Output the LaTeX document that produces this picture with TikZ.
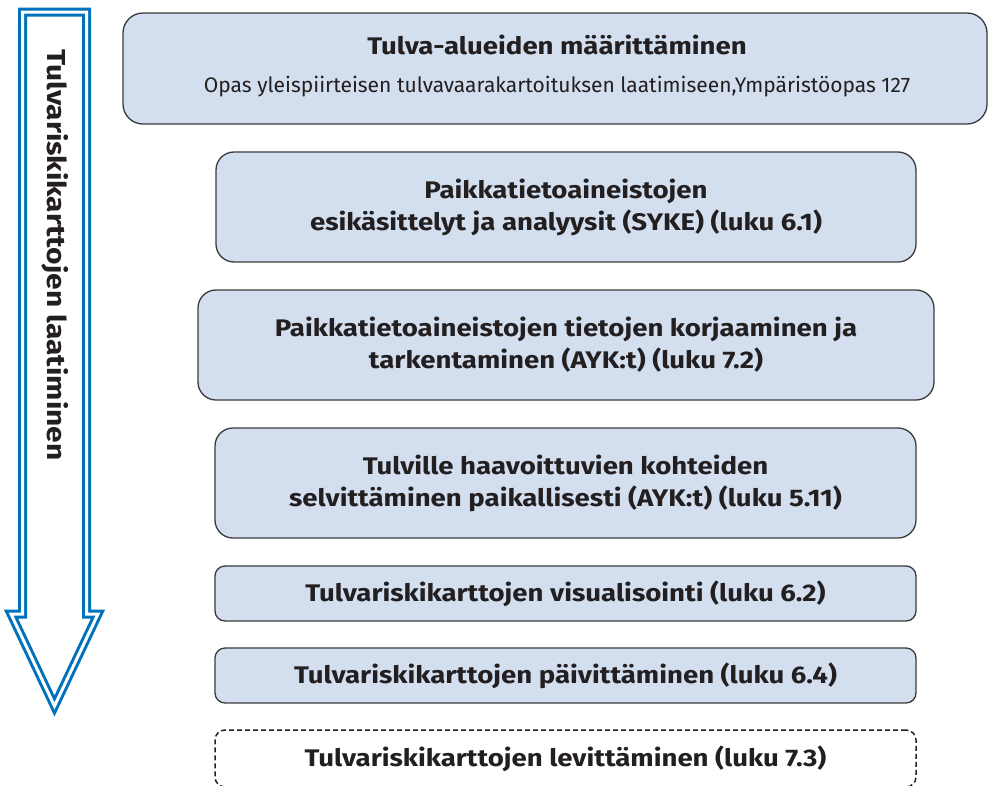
\documentclass[tikz,border=0pt]{standalone}
\usepackage{fontspec}
\setmainfont{Fira Sans}[BoldFeatures={FakeStretch=1.15}]
\definecolor{boxfill}{HTML}{D3DFEF}
\definecolor{boxline}{HTML}{3A3A3C}
\definecolor{txt}{HTML}{231F20}
\definecolor{arrowblue}{HTML}{0072BB}
\tikzset{
  phase/.style={draw=boxline, fill=boxfill, line width=1.3pt, rounded corners=18pt,
    align=center, text=txt, inner sep=0pt,
    font=\fontsize{24}{32}\selectfont\bfseries},
  shortphase/.style={phase, rounded corners=10pt},
  openphase/.style={shortphase, fill=none, draw=txt, line width=1.5pt, dash pattern=on 5pt off 3pt}
}
\begin{document}
\begin{tikzpicture}[x=1pt,y=-1pt]
        \useasboundingbox (0,0) rectangle (988,785);

        \draw[arrowblue, line width=3pt, double=white, double distance=3pt, line join=miter]
          (22.5,12) -- (86.5,12) -- (86.5,614) -- (98,614) -- (54.5,706)
          -- (11,614) -- (22.5,614) -- cycle;
        \node[rotate=-90, text=txt, font=\fontsize{26}{30}\selectfont\bfseries] (title) at (55,255) {Tulvariskikarttojen laatiminen};

        \node[phase, rounded corners=20pt, minimum width=864pt, minimum height=111pt] (b1) at (555,68.5) {};
        \node[text=txt, font=\fontsize{24}{25}\selectfont\bfseries] (b1a) at (557,45) {Tulva-alueiden määrittäminen};
        \node[text=txt, font=\fontsize{21}{22}\selectfont] (b1b) at (557,87) {Opas yleispiirteisen tulvavaarakartoituksen laatimiseen,Ympäristöopas 127};

        \node[phase, minimum width=700pt, minimum height=110pt] (b2) at (566,207) {Paikkatietoaineistojen\\esikäsittelyt ja analyysit (SYKE) (luku 6.1)};
        \node[phase, minimum width=736pt, minimum height=110pt] (b3) at (566,345) {Paikkatietoaineistojen tietojen korjaaminen ja\\tarkentaminen (AYK:t) (luku 7.2)};
        \node[phase, minimum width=701pt, minimum height=110pt] (b4) at (565.5,483) {Tulville haavoittuvien kohteiden\\selvittäminen paikallisesti (AYK:t) (luku 5.11)};
        \node[shortphase, minimum width=701pt, minimum height=55pt] (b5) at (565.5,593.5) {Tulvariskikarttojen visualisointi (luku 6.2)};
        \node[shortphase, minimum width=701pt, minimum height=55pt] (b6) at (565.5,675.5) {Tulvariskikarttojen päivittäminen (luku 6.4)};
        \node[openphase, minimum width=701pt, minimum height=57pt] (b7) at (565.5,758.5) {Tulvariskikarttojen levittäminen (luku 7.3)};
      \end{tikzpicture}
\end{document}
